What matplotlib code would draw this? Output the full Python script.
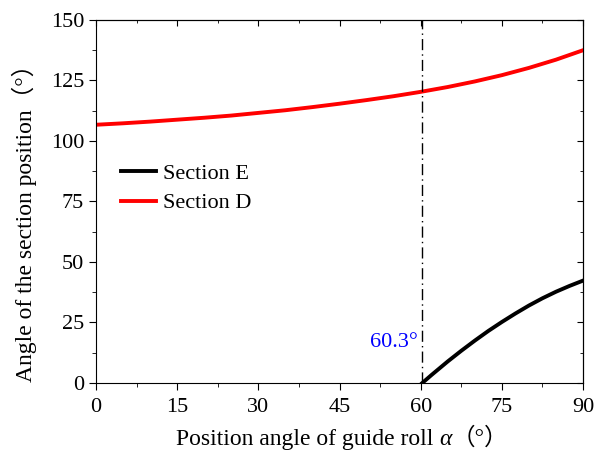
import matplotlib.pyplot as plt
from matplotlib.ticker import MultipleLocator
from matplotlib.offsetbox import TextArea, HPacker, AnchoredOffsetbox

fonts = ['Liberation Serif', 'Noto Sans CJK SC']
plt.rcParams['font.family'] = fonts

# guide roll position angle vs. section angle
alpha_d = [0, 5, 10, 15, 20, 25, 30, 35, 40, 45, 50, 55, 60, 65, 70, 75, 80, 85, 90]
section_d = [106.7, 107.3, 108.0, 108.8, 109.6, 110.5, 111.6, 112.7, 114.0, 115.4,
             116.9, 118.5, 120.3, 122.3, 124.6, 127.2, 130.2, 133.6, 137.5]

alpha_e = [60.3, 62, 65, 67.5, 70, 72.5, 75, 77.5, 80, 82.5, 85, 87.5, 90]
section_e = [0, 3.3, 8.9, 13.3, 17.5, 21.5, 25.2, 28.7, 32.0, 35.0, 37.7, 40.1, 42.3]

alpha_crit = 60.3

fig = plt.figure(figsize=(5.94, 4.5), dpi=100)
ax = fig.add_axes([0.1616, 0.149, 0.82, 0.8066])

ax.plot(alpha_e, section_e, color='black', lw=2.8, label='Section E')
ax.plot(alpha_d, section_d, color='red', lw=2.8, label='Section D')
ax.axvline(alpha_crit, color='black', lw=1.0, ls=(0, (8, 3, 1, 3)))
ax.text(alpha_crit - 0.8, 16.8, f'{alpha_crit}°', color='blue', fontsize=16,
        ha='right', va='center')

ax.set_xlim(0, 90)
ax.set_ylim(0, 150)
ax.xaxis.set_major_locator(MultipleLocator(15))
ax.xaxis.set_minor_locator(MultipleLocator(7.5))
ax.yaxis.set_major_locator(MultipleLocator(25))
ax.yaxis.set_minor_locator(MultipleLocator(12.5))
ax.tick_params(which='both', direction='out', labelsize=16, top=False, right=False)
ax.tick_params(which='major', length=5)
ax.tick_params(which='minor', length=3)
ax.tick_params(axis='x', which='major', pad=6)

# inward ticks on top/right
ax2 = ax.secondary_xaxis('top')
ax2.xaxis.set_major_locator(MultipleLocator(15))
ax2.xaxis.set_minor_locator(MultipleLocator(7.5))
ax2.tick_params(which='both', direction='in', labeltop=False)
ax2.tick_params(which='major', length=4)
ax2.tick_params(which='minor', length=2)
ay2 = ax.secondary_yaxis('right')
ay2.yaxis.set_major_locator(MultipleLocator(25))
ay2.yaxis.set_minor_locator(MultipleLocator(12.5))
ay2.tick_params(which='both', direction='in', labelright=False)
ay2.tick_params(which='major', length=4)
ay2.tick_params(which='minor', length=2)

# x label with italic alpha
lab = dict(fontsize=17, family=fonts)
parts = [TextArea('Position angle of guide roll ', textprops=lab),
         TextArea('α', textprops=dict(fontsize=17, family=fonts, style='italic')),
         TextArea('（°）', textprops=lab)]
xlab = AnchoredOffsetbox(loc='upper center', child=HPacker(children=parts, align='baseline', pad=0, sep=0),
                         bbox_to_anchor=(0.505, -0.122), bbox_transform=ax.transAxes,
                         frameon=False, pad=0, borderpad=0)
ax.add_artist(xlab)

ax.set_ylabel('Angle of the section position（°）', fontsize=17)
ax.yaxis.set_label_coords(-0.121, 0.455)

ax.legend(loc='upper left', bbox_to_anchor=(0.01, 0.66), frameon=False,
          fontsize=16, handlelength=1.6, handletextpad=0.3, labelspacing=0.4)

fig.savefig('out.png', dpi=100)
